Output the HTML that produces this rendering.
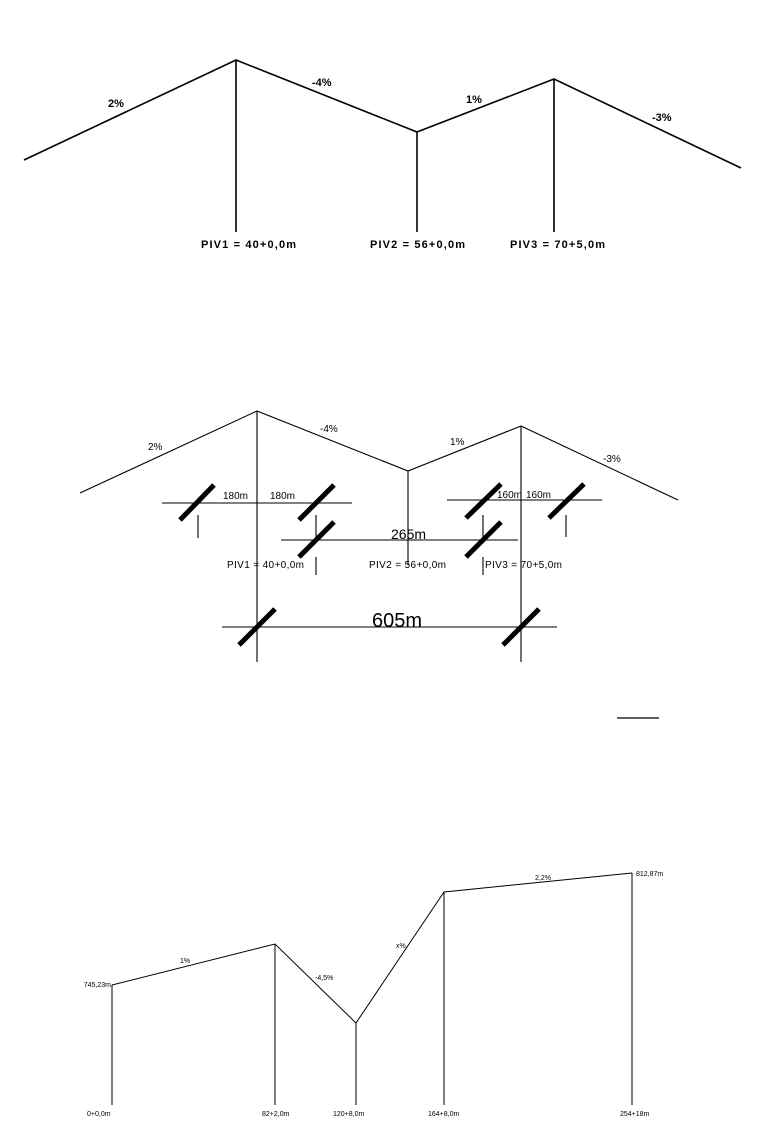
<!DOCTYPE html>
<html><head><meta charset="utf-8"><style>
html,body{margin:0;padding:0;background:#fff;}
svg{display:block;}
text{font-family:"Liberation Sans",sans-serif;fill:#000;}
</style></head><body>
<svg width="757" height="1136" viewBox="0 0 757 1136" xmlns="http://www.w3.org/2000/svg">
<!-- Top diagram -->
<g stroke="#000" stroke-width="1.6" fill="none">
<polyline points="24,160 236,60 417,132 554,79 741,168"/>
<line x1="236" y1="60" x2="236" y2="232"/>
<line x1="417" y1="132" x2="417" y2="232"/>
<line x1="554" y1="79" x2="554" y2="232"/>
</g>
<g font-size="11" font-weight="bold">
<text x="108" y="107">2%</text>
<text x="312" y="86">-4%</text>
<text x="466" y="103">1%</text>
<text x="652" y="121">-3%</text>
<text x="201" y="248" textLength="95" lengthAdjust="spacing">PIV1 = 40+0,0m</text>
<text x="370" y="248" textLength="95" lengthAdjust="spacing">PIV2 = 56+0,0m</text>
<text x="510" y="248" textLength="95" lengthAdjust="spacing">PIV3 = 70+5,0m</text>
</g>

<!-- Middle diagram -->
<g stroke="#000" stroke-width="1.1" fill="none">
<polyline points="80,493 257,411 408,471 521,426 678,500"/>
<line x1="257" y1="411" x2="257" y2="662"/>
<line x1="408" y1="471" x2="408" y2="565"/>
<line x1="521" y1="426" x2="521" y2="662"/>
<line x1="162" y1="503" x2="352" y2="503"/>
<line x1="447" y1="500" x2="602" y2="500"/>
<line x1="281" y1="540" x2="518" y2="540"/>
<line x1="222" y1="627" x2="557" y2="627"/>
<line x1="198" y1="515" x2="198" y2="538"/>
<line x1="316" y1="515" x2="316" y2="538"/>
<line x1="483" y1="515" x2="483" y2="538"/>
<line x1="566" y1="515" x2="566" y2="537"/>
<line x1="316" y1="557" x2="316" y2="575"/>
<line x1="483" y1="557" x2="483" y2="575"/>
</g>
<g stroke="#000" stroke-width="5" fill="none">
<line x1="180" y1="520" x2="214" y2="485"/>
<line x1="299" y1="520" x2="334" y2="485"/>
<line x1="466" y1="518" x2="501" y2="484"/>
<line x1="549" y1="518" x2="584" y2="484"/>
<line x1="299" y1="557" x2="334" y2="522"/>
<line x1="466" y1="557" x2="501" y2="522"/>
<line x1="239" y1="645" x2="275" y2="609"/>
<line x1="503" y1="645" x2="539" y2="609"/>
</g>
<g font-size="10">
<text x="148" y="450">2%</text>
<text x="320" y="432">-4%</text>
<text x="450" y="445">1%</text>
<text x="603" y="462">-3%</text>
<text x="223" y="499">180m</text>
<text x="270" y="499">180m</text>
<text x="497" y="498">160m</text>
<text x="526" y="498">160m</text>
<text x="227" y="568" textLength="77" lengthAdjust="spacing">PIV1 = 40+0,0m</text>
<text x="369" y="568" textLength="77" lengthAdjust="spacing">PIV2 = 56+0,0m</text>
<text x="485" y="568" textLength="77" lengthAdjust="spacing">PIV3 = 70+5,0m</text>
</g>
<text x="391" y="539" font-size="14">265m</text>
<text x="372" y="627" font-size="20">605m</text>
<line x1="617" y1="718" x2="659" y2="718" stroke="#000" stroke-width="1.2"/>

<!-- Bottom diagram -->
<g stroke="#000" stroke-width="1" fill="none">
<polyline points="112,985 275,944 356,1023 444,892 632,873"/>
<line x1="112" y1="985" x2="112" y2="1105"/>
<line x1="275" y1="944" x2="275" y2="1105"/>
<line x1="356" y1="1023" x2="356" y2="1105"/>
<line x1="444" y1="892" x2="444" y2="1105"/>
<line x1="632" y1="873" x2="632" y2="1105"/>
</g>
<g font-size="7">
<text x="87" y="1116">0+0,0m</text>
<text x="262" y="1116">82+2,0m</text>
<text x="333" y="1116">120+8,0m</text>
<text x="428" y="1116">164+8,0m</text>
<text x="620" y="1116">254+18m</text>
<text x="111" y="987" text-anchor="end">745,23m</text>
<text x="636" y="876">812,87m</text>
<text x="180" y="963">1%</text>
<text x="315" y="980">-4,5%</text>
<text x="396" y="948">x%</text>
<text x="535" y="880">2,2%</text>
</g>
</svg>
</body></html>
